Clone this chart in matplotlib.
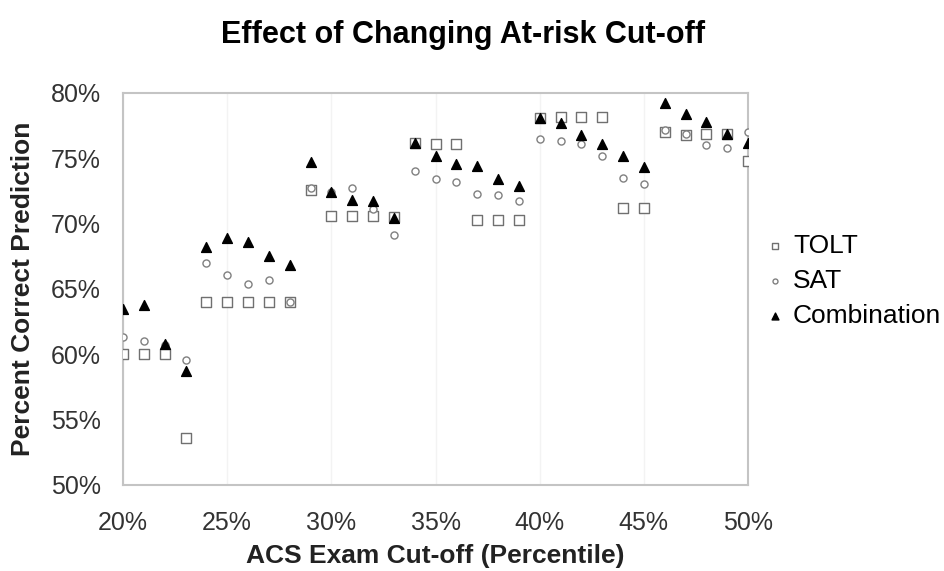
import matplotlib
matplotlib.use('Agg')
import matplotlib.pyplot as plt
from matplotlib.ticker import FuncFormatter

plt.rcParams['font.family'] = ['Liberation Sans', 'DejaVu Sans']

cutoff = [20, 21, 22, 23, 24, 25, 26, 27, 28, 29, 30, 31, 32, 33, 34, 35,
          36, 37, 38, 39, 40, 41, 42, 43, 44, 45, 46, 47, 48, 49, 50]
tolt = [60.0, 60.0, 60.0, 53.6, 64.0, 64.0, 64.0, 64.0, 64.0, 72.6, 70.6,
        70.6, 70.6, 70.5, 76.2, 76.1, 76.1, 70.3, 70.3, 70.3, 78.1, 78.2,
        78.2, 78.2, 71.2, 71.2, 77.0, 76.8, 76.9, 76.9, 74.8]
sat = [61.3, 61.0, 60.7, 59.6, 67.0, 66.1, 65.4, 65.7, 64.0, 72.7, 72.4,
       72.7, 71.1, 69.1, 74.0, 73.4, 73.2, 72.3, 72.2, 71.7, 76.5, 76.3,
       76.1, 75.2, 73.5, 73.0, 77.2, 76.9, 76.0, 75.8, 77.0]
combo = [63.5, 63.8, 60.8, 58.7, 68.2, 68.9, 68.6, 67.5, 66.8, 74.7, 72.4,
         71.8, 71.7, 70.4, 76.2, 75.2, 74.6, 74.4, 73.4, 72.9, 78.1, 77.7,
         76.8, 76.1, 75.2, 74.3, 79.2, 78.4, 77.8, 76.9, 76.2]

W, H = 944, 571
fig = plt.figure(figsize=(W / 100, H / 100), dpi=100)
ax = fig.add_axes([123 / W, 1 - 485 / H, 625 / W, 392 / H])

ax.scatter(cutoff, tolt, marker='s', s=42, facecolors='white',
           edgecolors='#707070', linewidths=1.0, label='TOLT', zorder=3)
ax.scatter(cutoff, sat, marker='o', s=26, facecolors='white',
           edgecolors='#808080', linewidths=1.0, label='SAT', zorder=3)
ax.scatter(cutoff, combo, marker='^', s=50, color='black',
           label='Combination', zorder=4)

ax.set_xlim(20, 50)
ax.set_ylim(50, 80)
ax.set_xticks(range(20, 51, 5))
ax.set_yticks(range(50, 81, 5))
pct = FuncFormatter(lambda v, p: '%d%%' % v)
ax.xaxis.set_major_formatter(pct)
ax.yaxis.set_major_formatter(pct)
ax.tick_params(length=0, labelsize=18, colors='#333333', pad=16)
ax.tick_params(axis='x', pad=19)
ax.grid(axis='x', color='#f3f3f3', linewidth=1)
ax.set_axisbelow(True)
for sp in ax.spines.values():
    sp.set_color('#c4c4c4')
    sp.set_linewidth(1.5)

fig.text(435 / W, 1 - 556 / H, 'ACS Exam Cut-off (Percentile)', ha='center',
         va='center', fontsize=19, fontweight='bold', color='#222222')
fig.text(23 / W, 1 - 289 / H, 'Percent Correct Prediction', ha='center',
         va='center', rotation=90, fontsize=19, fontweight='bold',
         color='#222222')
fig.text(463 / W, 1 - 35 / H, 'Effect of Changing At-risk Cut-off',
         ha='center', va='center', fontsize=22, fontweight='bold')

ax.legend(loc='center left', bbox_to_anchor=(764 / W, 1 - 281 / H),
          bbox_transform=fig.transFigure, frameon=False, fontsize=19,
          handlelength=0.8, handletextpad=0.3, labelspacing=0.42,
          borderpad=0, borderaxespad=0, markerscale=0.7)

fig.savefig('out.png', dpi=100)
